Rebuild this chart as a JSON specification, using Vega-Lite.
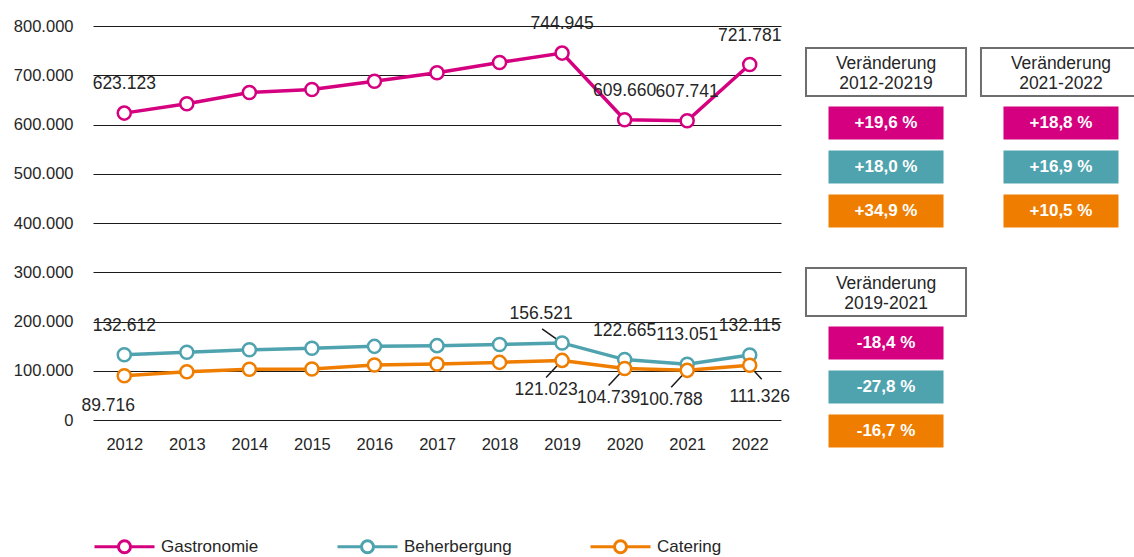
{
"$schema": "https://vega.github.io/schema/vega-lite/v6.json",
"padding": {"left": 13, "top": 15, "right": 0, "bottom": 0},
"background": "white",
"config": {
  "view": {"stroke": null},
  "font": "Liberation Sans, Arial, sans-serif",
  "locale": {"number": {"decimal": ",", "thousands": ".", "grouping": [3], "currency": ["", " €"]}},
  "axis": {"labelFont": "Liberation Sans, Arial, sans-serif", "labelFontSize": 16.5, "labelColor": "#262626"},
  "legend": {"labelFont": "Liberation Sans, Arial, sans-serif"},
  "text": {"font": "Liberation Sans, Arial, sans-serif"}
},
"spacing": 31,
"bounds": "flush",
"resolve": {"scale": {"color": "independent"}, "legend": {"color": "independent"}},
"hconcat": [
{
  "width": 688, "height": 394,
  "data": {"values": [
    {"Jahr": "2012", "Bereich": "Gastronomie", "Wert": 623123, "Label": "oben"},
    {"Jahr": "2013", "Bereich": "Gastronomie", "Wert": 642000},
    {"Jahr": "2014", "Bereich": "Gastronomie", "Wert": 665000},
    {"Jahr": "2015", "Bereich": "Gastronomie", "Wert": 671000},
    {"Jahr": "2016", "Bereich": "Gastronomie", "Wert": 688000},
    {"Jahr": "2017", "Bereich": "Gastronomie", "Wert": 705000},
    {"Jahr": "2018", "Bereich": "Gastronomie", "Wert": 726000},
    {"Jahr": "2019", "Bereich": "Gastronomie", "Wert": 744945, "Label": "oben"},
    {"Jahr": "2020", "Bereich": "Gastronomie", "Wert": 609660, "Label": "oben"},
    {"Jahr": "2021", "Bereich": "Gastronomie", "Wert": 607741, "Label": "oben"},
    {"Jahr": "2022", "Bereich": "Gastronomie", "Wert": 721781, "Label": "oben"},
    {"Jahr": "2012", "Bereich": "Beherbergung", "Wert": 132612, "Label": "oben"},
    {"Jahr": "2013", "Bereich": "Beherbergung", "Wert": 137500},
    {"Jahr": "2014", "Bereich": "Beherbergung", "Wert": 142500},
    {"Jahr": "2015", "Bereich": "Beherbergung", "Wert": 145500},
    {"Jahr": "2016", "Bereich": "Beherbergung", "Wert": 149500},
    {"Jahr": "2017", "Bereich": "Beherbergung", "Wert": 151000},
    {"Jahr": "2018", "Bereich": "Beherbergung", "Wert": 153500},
    {"Jahr": "2019", "Bereich": "Beherbergung", "Wert": 156521, "Label": "oben-links", "Linie": "oben-links"},
    {"Jahr": "2020", "Bereich": "Beherbergung", "Wert": 122665, "Label": "oben"},
    {"Jahr": "2021", "Bereich": "Beherbergung", "Wert": 113051, "Label": "oben"},
    {"Jahr": "2022", "Bereich": "Beherbergung", "Wert": 132115, "Label": "oben"},
    {"Jahr": "2012", "Bereich": "Catering", "Wert": 89716, "Label": "unten-links"},
    {"Jahr": "2013", "Bereich": "Catering", "Wert": 98000},
    {"Jahr": "2014", "Bereich": "Catering", "Wert": 103000},
    {"Jahr": "2015", "Bereich": "Catering", "Wert": 103500},
    {"Jahr": "2016", "Bereich": "Catering", "Wert": 111500},
    {"Jahr": "2017", "Bereich": "Catering", "Wert": 113500},
    {"Jahr": "2018", "Bereich": "Catering", "Wert": 117000},
    {"Jahr": "2019", "Bereich": "Catering", "Wert": 121023, "Label": "unten-links", "Linie": "unten-links"},
    {"Jahr": "2020", "Bereich": "Catering", "Wert": 104739, "Label": "unten-links", "Linie": "unten-links"},
    {"Jahr": "2021", "Bereich": "Catering", "Wert": 100788, "Label": "unten-links", "Linie": "unten-links"},
    {"Jahr": "2022", "Bereich": "Catering", "Wert": 111326, "Label": "unten-rechts", "Linie": "unten-rechts"}
  ]},
  "encoding": {
    "x": {"field": "Jahr", "type": "ordinal", "scale": {"type": "point", "padding": 0.5},
          "axis": {"title": null, "labelAngle": 0, "ticks": false, "domain": false, "labelPadding": 16, "grid": false}},
    "y": {"field": "Wert", "type": "quantitative", "scale": {"domain": [0, 800000], "nice": false},
          "axis": {"title": null, "values": [0, 100000, 200000, 300000, 400000, 500000, 600000, 700000, 800000], "format": ",d",
                   "ticks": false, "domain": false, "labelPadding": 20, "gridColor": "#1a1a1a", "gridWidth": 1, "gridOpacity": 1}},
    "color": {"field": "Bereich", "type": "nominal",
              "scale": {"domain": ["Gastronomie", "Beherbergung", "Catering"], "range": ["#D5007F", "#4FA3AF", "#EF7D00"]},
              "legend": {"orient": "bottom", "direction": "horizontal", "title": null,
                         "symbolType": "M-1,0H-0.2M0.2,0H1M0.2,0A0.2,0.2,0,1,1,-0.2,0A0.2,0.2,0,1,1,0.2,0",
                         "symbolSize": 3600, "symbolStrokeWidth": 3, "symbolFillColor": "white",
                         "labelFontSize": 17, "labelColor": "#262626", "columnPadding": 72, "labelOffset": 5, "offset": 62}}
  },
  "layer": [
    {"mark": {"type": "line", "strokeWidth": 3.5}},
    {"transform": [{"filter": "datum.Linie == 'oben-links'"}],
     "mark": {"type": "point", "shape": "M-2.0,-1.4L-0.3,-0.2", "size": 400, "strokeWidth": 1.5, "filled": false, "opacity": 1},
     "encoding": {"color": {"value": "#1a1a1a"}}},
    {"transform": [{"filter": "datum.Linie == 'unten-links'"}],
     "mark": {"type": "point", "shape": "M-1.6,1.7L-0.2,0.2", "size": 400, "strokeWidth": 1.5, "filled": false, "opacity": 1},
     "encoding": {"color": {"value": "#1a1a1a"}}},
    {"transform": [{"filter": "datum.Linie == 'unten-rechts'"}],
     "mark": {"type": "point", "shape": "M1.2,1.4L0.1,0.2", "size": 400, "strokeWidth": 1.5, "filled": false, "opacity": 1},
     "encoding": {"color": {"value": "#1a1a1a"}}},
    {"mark": {"type": "point", "filled": false, "fill": "white", "fillOpacity": 1, "size": 170, "strokeWidth": 2.5, "opacity": 1}},
    {"transform": [{"filter": "datum.Label == 'oben'"}],
     "mark": {"type": "text", "fontSize": 17.5, "color": "#262626", "baseline": "middle", "dy": -29},
     "encoding": {"text": {"field": "Wert", "type": "quantitative", "format": ",d"}, "color": {"value": "#262626"}}},
    {"transform": [{"filter": "datum.Label == 'oben-links'"}],
     "mark": {"type": "text", "fontSize": 17.5, "color": "#262626", "baseline": "middle", "dy": -29, "dx": -21},
     "encoding": {"text": {"field": "Wert", "type": "quantitative", "format": ",d"}, "color": {"value": "#262626"}}},
    {"transform": [{"filter": "datum.Label == 'unten-links'"}],
     "mark": {"type": "text", "fontSize": 17.5, "color": "#262626", "baseline": "middle", "dy": 30, "dx": -16},
     "encoding": {"text": {"field": "Wert", "type": "quantitative", "format": ",d"}, "color": {"value": "#262626"}}},
    {"transform": [{"filter": "datum.Label == 'unten-rechts'"}],
     "mark": {"type": "text", "fontSize": 17.5, "color": "#262626", "baseline": "middle", "dy": 32, "dx": 10},
     "encoding": {"text": {"field": "Wert", "type": "quantitative", "format": ",d"}, "color": {"value": "#262626"}}}
  ]
},
{
  "width": 323, "height": 458,
  "data": {"values": [
    {"Spalte": "A", "Zeile": "h1", "Typ": "Kopf", "Text": "Veränderung\n2012-20219"},
    {"Spalte": "A", "Zeile": "g1", "Typ": "Wert", "Bereich": "Gastronomie", "Text": "+19,6 %"},
    {"Spalte": "A", "Zeile": "b1", "Typ": "Wert", "Bereich": "Beherbergung", "Text": "+18,0 %"},
    {"Spalte": "A", "Zeile": "c1", "Typ": "Wert", "Bereich": "Catering", "Text": "+34,9 %"},
    {"Spalte": "B", "Zeile": "h1", "Typ": "Kopf", "Text": "Veränderung\n2021-2022"},
    {"Spalte": "B", "Zeile": "g1", "Typ": "Wert", "Bereich": "Gastronomie", "Text": "+18,8 %"},
    {"Spalte": "B", "Zeile": "b1", "Typ": "Wert", "Bereich": "Beherbergung", "Text": "+16,9 %"},
    {"Spalte": "B", "Zeile": "c1", "Typ": "Wert", "Bereich": "Catering", "Text": "+10,5 %"},
    {"Spalte": "A", "Zeile": "h2", "Typ": "Kopf", "Text": "Veränderung\n2019-2021"},
    {"Spalte": "A", "Zeile": "g2", "Typ": "Wert", "Bereich": "Gastronomie", "Text": "-18,4 %"},
    {"Spalte": "A", "Zeile": "b2", "Typ": "Wert", "Bereich": "Beherbergung", "Text": "-27,8 %"},
    {"Spalte": "A", "Zeile": "c2", "Typ": "Wert", "Bereich": "Catering", "Text": "-16,7 %"}
  ]},
  "encoding": {
    "x": {"field": "Spalte", "type": "nominal", "scale": {"domain": ["A", "B"], "paddingInner": 0.154, "paddingOuter": 0, "align": 0}, "axis": null},
    "y": {"field": "Zeile", "type": "nominal", "scale": {"domain": ["h1", "g1", "b1", "c1", "x", "h2", "g2", "b2", "c2"], "paddingInner": 0, "paddingOuter": 0.7045}, "axis": null}
  },
  "layer": [
    {"transform": [{"filter": "datum.Typ == 'Kopf'"}],
     "mark": {"type": "rect", "fill": "white", "stroke": "#6e6e6e", "strokeWidth": 2, "width": {"band": 1.081}, "height": {"band": 1.09}, "yOffset": -7}},
    {"transform": [{"filter": "datum.Typ == 'Kopf'"}],
     "mark": {"type": "text", "fontSize": 17.5, "color": "#262626", "lineBreak": "\n", "lineHeight": 20, "yOffset": -15, "baseline": "middle"},
     "encoding": {"text": {"field": "Text"}}},
    {"transform": [{"filter": "datum.Typ == 'Wert'"}],
     "mark": {"type": "rect", "width": {"band": 0.777}, "height": {"band": 0.75}},
     "encoding": {"color": {"field": "Bereich", "type": "nominal",
       "scale": {"domain": ["Gastronomie", "Beherbergung", "Catering"], "range": ["#D5007F", "#4FA3AF", "#EF7D00"]}, "legend": null}}},
    {"transform": [{"filter": "datum.Typ == 'Wert'"}],
     "mark": {"type": "text", "fontSize": 17, "fontWeight": "bold", "color": "white", "baseline": "middle"},
     "encoding": {"text": {"field": "Text"}}}
  ]
}
]
}
